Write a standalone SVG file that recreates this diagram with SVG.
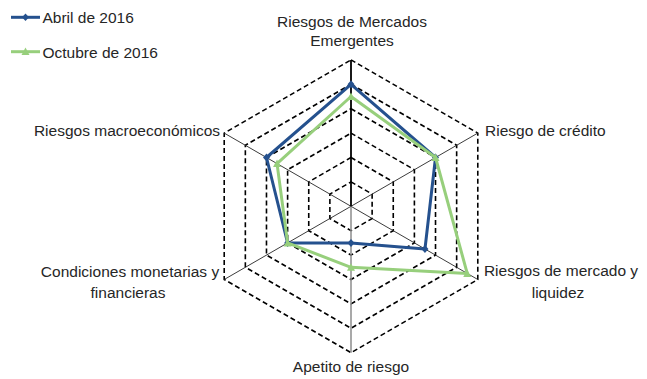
<svg xmlns="http://www.w3.org/2000/svg" width="647" height="379" viewBox="0 0 647 379">
<style>
.lbl{font-family:"Liberation Sans",Arial,sans-serif;font-size:15.5px;fill:#262626}
.ring{fill:none;stroke:#000;stroke-width:1.6;stroke-dasharray:5,3}
.spoke{stroke:#262626;stroke-width:0.9}
.blue{fill:none;stroke:#25518E;stroke-width:3;stroke-linejoin:round}
.green{fill:none;stroke:#97CF7C;stroke-width:3;stroke-linejoin:round}
</style>
<defs>
<marker id="dia" markerUnits="userSpaceOnUse" markerWidth="10" markerHeight="10" refX="5" refY="5" viewBox="0 0 10 10"><path d="M5,1 L8.5,5 L5,9 L1.5,5 Z" fill="#25518E"/></marker>
<marker id="tri" markerUnits="userSpaceOnUse" markerWidth="10" markerHeight="10" refX="5" refY="5" viewBox="0 0 10 10"><path d="M5,1 L9,8.5 L1,8.5 Z" fill="#97CF7C"/></marker>
</defs>
<rect width="647" height="379" fill="#fff"/>
<g id="grid">
<polygon class="ring" points="351,181.9 372.13,194.1 372.13,218.5 351,230.7 329.87,218.5 329.87,194.1"/>
<polygon class="ring" points="351,157.5 393.26,181.9 393.26,230.7 351,255.1 308.74,230.7 308.74,181.9"/>
<polygon class="ring" points="351,133.1 414.39,169.7 414.39,242.9 351,279.5 287.61,242.9 287.61,169.7"/>
<polygon class="ring" points="351,108.7 435.52,157.5 435.52,255.1 351,303.9 266.48,255.1 266.48,157.5"/>
<polygon class="ring" points="351,84.3 456.65,145.3 456.65,267.3 351,328.3 245.35,267.3 245.35,145.3"/>
<polygon class="ring" points="351,59.9 477.79,133.1 477.79,279.5 351,352.7 224.21,279.5 224.21,133.1"/>
</g>
<g id="connectors">
<line class="spoke" x1="351" y1="206.3" x2="477.79" y2="133.1"/>
<line class="spoke" x1="351" y1="206.3" x2="477.79" y2="279.5"/>
<line class="spoke" x1="351" y1="206.3" x2="224.21" y2="279.5"/>
<line class="spoke" x1="351" y1="206.3" x2="224.21" y2="133.1"/>
<line x1="351" y1="206.3" x2="351" y2="352.7" stroke="#8c8c8c" stroke-width="1.5"/>
<line x1="351" y1="206.3" x2="351" y2="59.9" stroke="#000" stroke-width="1.8"/>
</g>
<g id="series-abril">
<polygon class="blue" points="351,84.3 435.52,157.5 424.96,249 351,242.9 287.61,242.9 266.48,157.5" marker-start="url(#dia)" marker-mid="url(#dia)"/>
</g>
<g id="series-octubre">
<polygon class="green" points="351,96.5 435.52,157.5 467.22,273.4 351,267.3 287.61,242.9 277.04,163.6" marker-start="url(#tri)" marker-mid="url(#tri)"/>
</g>
<g id="node-top"><text class="lbl" x="352" y="27" text-anchor="middle">Riesgos de Mercados</text><text class="lbl" x="352" y="46" text-anchor="middle">Emergentes</text></g>
<g id="node-credito"><text class="lbl" x="485" y="136">Riesgo de crédito</text></g>
<g id="node-mercado"><text class="lbl" x="561" y="276" text-anchor="middle">Riesgos de mercado y</text><text class="lbl" x="558" y="298" text-anchor="middle">liquidez</text></g>
<g id="node-apetito"><text class="lbl" x="351" y="372" text-anchor="middle">Apetito de riesgo</text></g>
<g id="node-condiciones"><text class="lbl" x="130" y="277" text-anchor="middle">Condiciones monetarias y</text><text class="lbl" x="128" y="298" text-anchor="middle">financieras</text></g>
<g id="node-macro"><text class="lbl" x="220" y="136" text-anchor="end">Riesgos macroeconómicos</text></g>
<g id="legend">
<line x1="11" y1="17.3" x2="40" y2="17.3" stroke="#25518E" stroke-width="3"/>
<path d="M25.5,13.5 L29,17.3 L25.5,21 L22,17.3 Z" fill="#25518E"/>
<text class="lbl" x="42.5" y="22.5">Abril de 2016</text>
<line x1="11" y1="51.7" x2="40" y2="51.7" stroke="#97CF7C" stroke-width="3"/>
<path d="M25.5,47.5 L29.5,55 L21.5,55 Z" fill="#97CF7C"/>
<text class="lbl" x="42.5" y="57.5">Octubre de 2016</text>
</g>
</svg>
